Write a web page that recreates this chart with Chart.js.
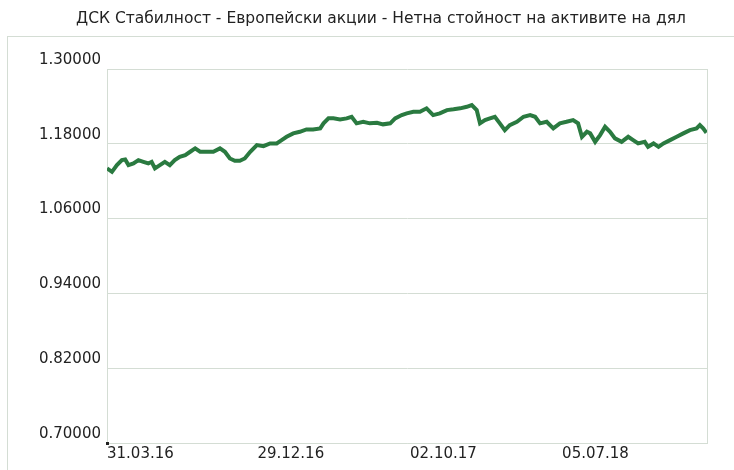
<!DOCTYPE html>
<html>
<head>
<meta charset="utf-8">
<script src="https://cdn.jsdelivr.net/npm/chart.js@4"></script>
<style>
  html, body { margin: 0; padding: 0; background: #fff; }
  #wrap { position: relative; width: 734px; height: 470px; }
  #title {
    position: absolute; left: 28px; top: 9px; width: 706px;
    text-align: center; font: 15.5px 'DejaVu Sans', sans-serif; color: #222;
    white-space: nowrap;
  }
</style>
</head>
<body>
<div id="wrap">
  <div id="title"></div>
  <canvas id="navChart"></canvas>
</div>
<script>
// chart data (days counted from 31.03.16)
const chartTitle = 'ДСК Стабилност - Европейски акции - Нетна стойност на активите на дял';
const dayOffsets = [
  0, 9, 18, 27, 33, 39, 48, 57, 66, 75, 81, 87, 96, 105, 114, 123, 132, 142, 151, 160,
  169, 181, 193, 205, 214, 223, 232, 241, 250, 260, 272, 284, 296, 308, 317, 326, 338, 350, 362, 374,
  387, 393, 402, 411, 423, 435, 444, 453, 465, 477, 490, 501, 514, 523, 535, 544, 556, 568, 580, 592,
  604, 617, 629, 641, 653, 662, 671, 677, 686, 695, 704, 713, 722, 731, 744, 756, 768, 777, 786, 798,
  810, 822, 834, 846, 855, 862, 871, 877, 886, 895, 904, 913, 922, 934, 946, 955, 964, 976, 982, 992,
  1001, 1010, 1022, 1034, 1046, 1058, 1070, 1076, 1082, 1088
];
const navValues = [
  1.1405, 1.1350, 1.1458, 1.1538, 1.1549, 1.1458, 1.1485, 1.1538, 1.1511, 1.1485, 1.1511, 1.1405, 1.1458, 1.1511, 1.1458, 1.1538, 1.1591, 1.1618, 1.1672, 1.1726,
  1.1672, 1.1672, 1.1672, 1.1726, 1.1672, 1.1565, 1.1527, 1.1527, 1.1565, 1.1672, 1.1779, 1.1763, 1.1806, 1.1806, 1.1859, 1.1912, 1.1967, 1.1993, 1.2031, 1.2031,
  1.2047, 1.2128, 1.2208, 1.2208, 1.2192, 1.2208, 1.2234, 1.2128, 1.2153, 1.2128, 1.2137, 1.2112, 1.2128, 1.2208, 1.2261, 1.2288, 1.2314, 1.2314, 1.2369, 1.2261,
  1.2288, 1.2341, 1.2353, 1.2369, 1.2394, 1.2422, 1.2341, 1.2128, 1.2181, 1.2208, 1.2234, 1.2128, 1.2020, 1.2100, 1.2153, 1.2234, 1.2261, 1.2234, 1.2128, 1.2153,
  1.2047, 1.2128, 1.2153, 1.2181, 1.2128, 1.1912, 1.1993, 1.1967, 1.1832, 1.1940, 1.2073, 1.1993, 1.1887, 1.1832, 1.1912, 1.1859, 1.1806, 1.1832, 1.1752, 1.1806,
  1.1752, 1.1806, 1.1859, 1.1912, 1.1967, 1.2020, 1.2047, 1.2100, 1.2047, 1.1977
];
const tickDays = [0, 273, 550, 826];
const tickLabels = ['31.03.16', '29.12.16', '02.10.17', '05.07.18'];
const yMin = 0.70, yMax = 1.30, yStep = 0.12;

const gridColor = '#d4ddd4';

document.getElementById('title').textContent = chartTitle;

// outer frame, right border of the plot and the small corner mark
const framePlugin = {
  id: 'frame',
  beforeDraw(chart) {
    const ctx = chart.ctx;
    ctx.save();
    ctx.strokeStyle = gridColor;
    ctx.lineWidth = 1;
    ctx.strokeRect(7.5, 36.5, 800, 500);
    ctx.restore();
  },
  afterDraw(chart) {
    const { ctx, chartArea } = chart;
    ctx.save();
    ctx.strokeStyle = gridColor;
    ctx.lineWidth = 1;
    ctx.beginPath();
    ctx.moveTo(Math.round(chartArea.right) + 0.5, chartArea.top);
    ctx.lineTo(Math.round(chartArea.right) + 0.5, chartArea.bottom);
    ctx.stroke();
    ctx.fillStyle = '#222';
    ctx.fillRect(chartArea.left - 1, chartArea.bottom - 1, 3, 3);
    ctx.restore();
  }
};

new Chart(document.getElementById('navChart'), {
  type: 'line',
  data: {
    datasets: [{
      data: dayOffsets.map((d, i) => ({ x: d, y: navValues[i] })),
      borderColor: '#2a7a40',
      borderWidth: 4,
      pointRadius: 0,
      tension: 0,
      fill: false
    }]
  },
  options: {
    responsive: true,
    maintainAspectRatio: false,
    animation: false,
    layout: { padding: { left: 5, right: 27, top: 69, bottom: 0 } },
    plugins: {
      legend: { display: false },
      tooltip: { enabled: false },
      title: { display: false }
    },
    scales: {
      x: {
        type: 'linear',
        min: 0,
        max: 1089,
        grid: { display: false, drawTicks: false },
        border: { display: true, color: gridColor },
        afterBuildTicks: (scale) => { scale.ticks = tickDays.map(v => ({ value: v })); },
        afterFit: (scale) => { scale.height = 27; },
        ticks: {
          align: 'start',
          padding: 2,
          maxRotation: 0,
          color: '#222',
          font: { family: 'DejaVu Sans', size: 15 },
          callback: (v) => tickLabels[tickDays.indexOf(v)] || ''
        }
      },
      y: {
        min: yMin,
        max: yMax,
        grid: { color: gridColor, drawTicks: false },
        border: { display: true, color: gridColor },
        afterFit: (scale) => { scale.width = 102; },
        ticks: {
          stepSize: yStep,
          padding: 6,
          labelOffset: -9,
          color: '#222',
          font: { family: 'DejaVu Sans', size: 15 },
          callback: (v) => Number(v).toFixed(5)
        }
      }
    }
  },
  plugins: [framePlugin]
});
</script>
</body>
</html>
